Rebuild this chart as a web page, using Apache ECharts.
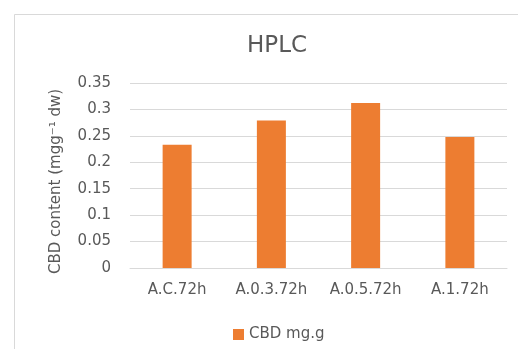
<!DOCTYPE html>
<html>
<head>
<meta charset="utf-8">
<script src="https://cdn.jsdelivr.net/npm/echarts@6/dist/echarts.min.js"></script>
<style>
  html, body { margin: 0; padding: 0; background: #fff; }
  #chart { width: 518px; height: 349px; }
</style>
</head>
<body>
<div id="chart"></div>
<script>
// HPLC measurement of CBD per treatment
const categories = ['A.C.72h', 'A.0.3.72h', 'A.0.5.72h', 'A.1.72h'];
const cbdValues = [0.233, 0.279, 0.312, 0.248];
const yTicks = [0, 0.05, 0.1, 0.15, 0.2, 0.25, 0.3, 0.35];
const seriesName = 'CBD mg.g';

const textColor = '#595959';
const fontFamily = '"DejaVu Sans", "Noto Sans", sans-serif';

const chart = echarts.init(document.getElementById('chart'), null, { renderer: 'canvas' });
chart.setOption({
  animation: false,
  backgroundColor: '#ffffff',
  graphic: [{
    type: 'rect',
    left: 12, top: 12,
    shape: { width: 520, height: 350 },
    style: { fill: 'none', stroke: '#d9d9d9', lineWidth: 1 },
    silent: true
  }],
  title: {
    text: 'HPLC',
    left: 272, top: 30,
    textAlign: 'center',
    textStyle: { color: textColor, fontSize: 23, fontWeight: 'normal', fontFamily }
  },
  legend: {
    data: [seriesName],
    left: 228, top: 322,
    itemWidth: 11, itemHeight: 11, itemGap: 5,
    icon: 'rect',
    textStyle: { color: textColor, fontSize: 15, fontFamily }
  },
  grid: { left: 130, right: 11, top: 83, bottom: 81, containLabel: false },
  xAxis: {
    type: 'category',
    data: categories,
    axisLine: { show: true, lineStyle: { color: '#d9d9d9' } },
    axisTick: { show: false },
    axisLabel: { color: textColor, fontSize: 15, fontFamily, margin: 15 }
  },
  yAxis: {
    type: 'value',
    min: yTicks[0], max: yTicks[yTicks.length - 1], interval: 0.05,
    name: 'CBD content (mgg\u207B\u00B9 dw)',
    nameLocation: 'middle', nameGap: 66, nameRotate: 90,
    nameTextStyle: { color: textColor, fontSize: 15, fontFamily, padding: [0, 12, 0, 0] },
    axisLine: { show: false },
    axisTick: { show: false },
    axisLabel: {
      color: textColor, fontSize: 15, fontFamily, margin: 19,
      formatter: v => String(Math.round(v * 100) / 100)
    },
    splitLine: { lineStyle: { color: '#d9d9d9' } }
  },
  series: [{
    name: seriesName,
    type: 'bar',
    data: cbdValues,
    barWidth: 29,
    itemStyle: { color: '#ed7d31' }
  }]
});
</script>
</body>
</html>
